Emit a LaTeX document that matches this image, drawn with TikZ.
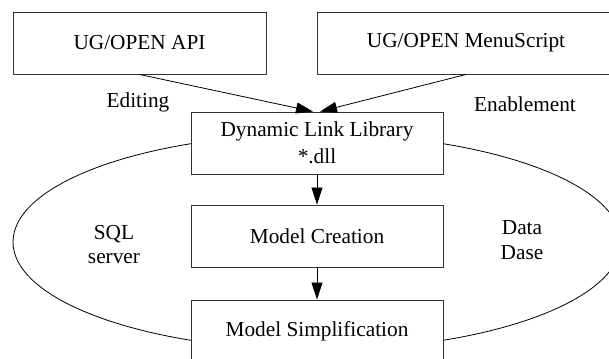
\documentclass[tikz,border=0pt]{standalone}
\usepackage{fontspec}
\setmainfont{Liberation Serif}
\usetikzlibrary{arrows.meta}
\begin{document}
\begin{tikzpicture}[x=1pt,y=1pt,
  box/.style={draw=black!80, line width=0.9pt, fill=white, minimum width=252pt, minimum height=62pt, inner sep=0pt, align=center, font=\fontsize{21.3}{27}\selectfont},
  lbl/.style={anchor=base, inner sep=0pt, font=\fontsize{21.3}{27}\selectfont},
  arr/.style={line width=0.8pt, -{Triangle[length=17pt,width=11pt]}},
  loopline/.style={line width=0.8pt}]
\clip (0,0) rectangle (609,-358);
\draw[loopline] (317,-242) ellipse [x radius=304, y radius=108];
\node[box, minimum width=253pt] (api) at (139.5,-43) {UG/OPEN API};
\node[box, minimum width=298pt] (menu) at (466,-43) {UG/OPEN MenuScript};
\node[box] (dll) at (317,-143) {Dynamic Link Library\\*.dll};
\node[box] (mc) at (317,-236) {Model Creation};
\node[box] (ms) at (317,-331) {Model Simplification};
\draw[arr] (api.south) -- ([xshift=-4pt]dll.north);
\draw[arr] (menu.south) -- ([xshift=3pt]dll.north);
\draw[arr] (dll) -- (mc);
\draw[arr] (mc) -- (ms);
\node[lbl] (edit) at (138,-108) {Editing};
\node[lbl] (enab) at (525,-112) {Enablement};
\node[lbl] (sqla) at (114,-239) {SQL};
\node[lbl] (sqlb) at (114,-263) {server};
\node[lbl] (dba) at (522,-234) {Data};
\node[lbl] (dbb) at (522,-259) {Dase};
\end{tikzpicture}
\end{document}
